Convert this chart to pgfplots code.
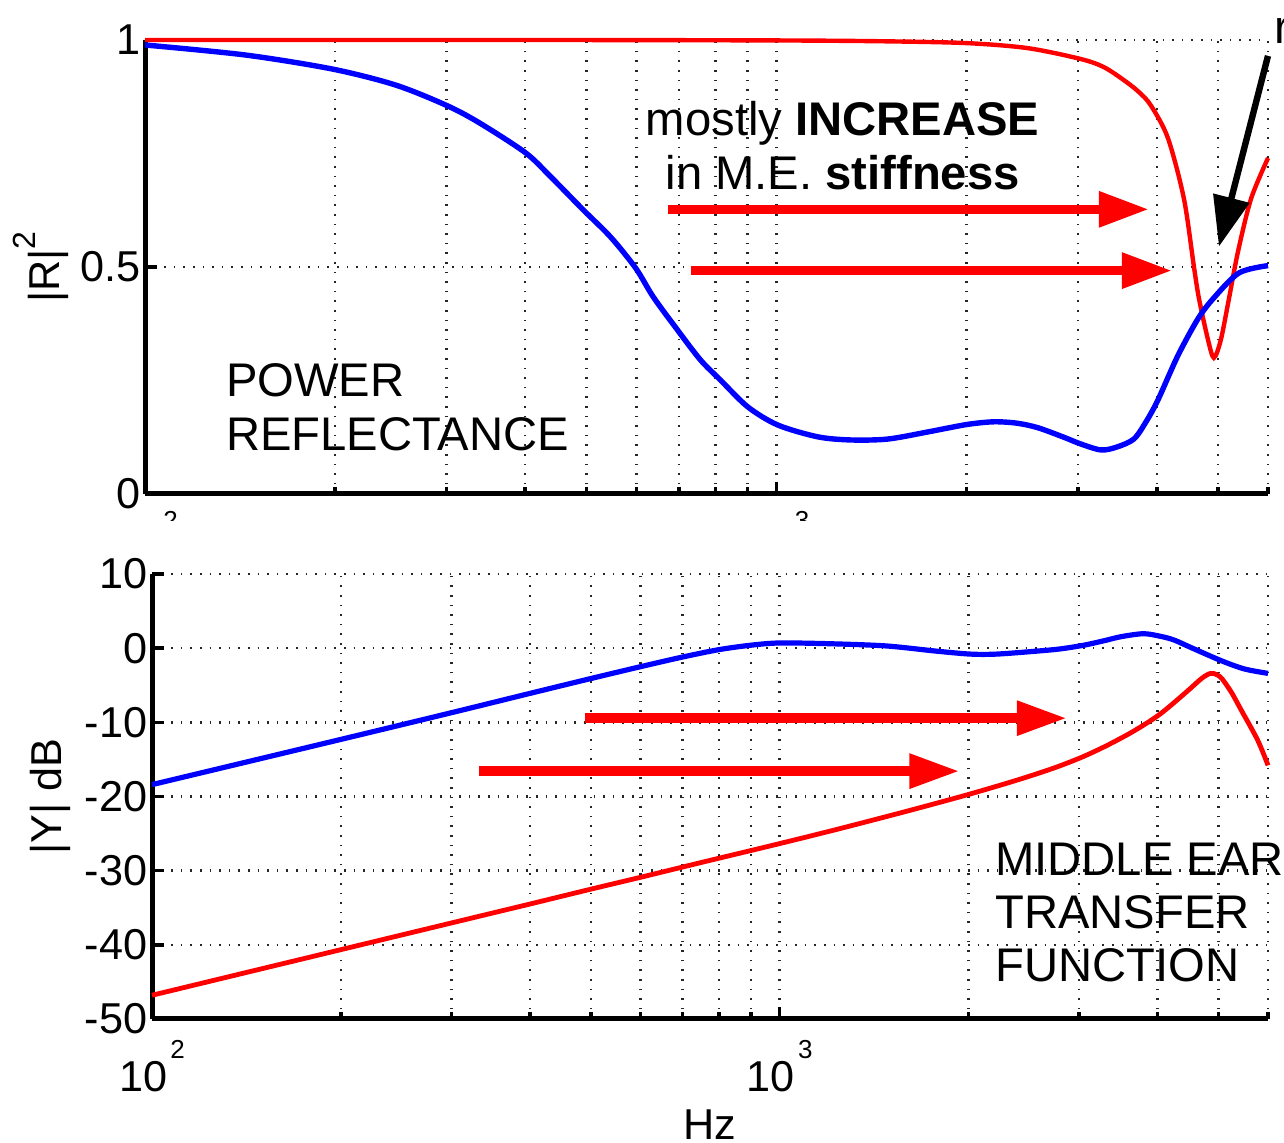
\documentclass[border=0pt]{standalone}
\usepackage{pgfplots}
\pgfplotsset{compat=1.18}
\usepackage{pgfplotstable}
\usepackage{fontspec}
\setmainfont{Liberation Sans}
\usetikzlibrary{arrows.meta}

\pgfplotstableread{
f r
100 1.000
400 1.000
1000 0.999
1500 0.997
2008 0.993
2500 0.982
3033 0.958
3300 0.940
3560 0.910
3750 0.885
3914 0.856
4165 0.784
4416 0.650
4580 0.500
4665 0.430
4820 0.340
4925 0.300
5052 0.340
5203 0.430
5378 0.534
5639 0.650
6000 0.740
}\topred

\pgfplotstableread{
f r
100 0.989
144 0.967
198 0.936
249 0.901
299 0.857
337 0.819
400 0.752
438 0.700
494 0.626
546 0.566
598 0.498
638 0.434
697 0.361
758 0.295
815 0.251
900 0.192
1004 0.152
1161 0.126
1310 0.119
1500 0.121
1741 0.137
2000 0.153
2207 0.159
2400 0.156
2592 0.146
2850 0.125
3033 0.110
3263 0.097
3450 0.103
3679 0.121
3850 0.160
4016 0.207
4320 0.305
4648 0.386
4925 0.432
5398 0.487
6000 0.503
}\topblue

\pgfplotstableread{
f y
100 -18.4
200 -12.3
300 -8.7
400 -6.1
500 -4.1
600 -2.5
700 -1.2
800 -0.2
900 0.4
1000 0.7
1200 0.6
1478 0.3
1777 -0.4
2014 -0.8
2216 -0.8
2568 -0.4
2800 -0.1
3053 0.4
3287 1.0
3500 1.55
3800 1.95
4042 1.6
4250 1.1
4546 0.0
5058 -1.7
5500 -2.8
6000 -3.4
}\botblue

\pgfplotstableread{
f y
100 -46.8
200 -40.65
300 -37.05
400 -34.5
500 -32.5
600 -30.9
750 -28.9
1000 -26.35
1250 -24.31
1600 -21.95
2000 -19.72
2400 -17.74
2750 -16.09
3050 -14.6
3350 -12.97
3685 -11.07
4042 -8.86
4462 -5.8
4700 -4.1
4858 -3.4
4980 -3.6
5076 -4.2
5250 -6.0
5426 -8.2
5776 -12.4
6000 -15.8
}\botred

\newcommand{\xlab}[1]{10\hspace{0.8pt}\raisebox{8.2pt}{\fontsize{6.5}{6.5}\selectfont #1}}
\newcommand{\xlabtop}[1]{\phantom{10}\hspace{0.8pt}\raisebox{8.2pt}{\fontsize{6.5}{6.5}\selectfont #1}}
\newcommand{\annfont}{\fontsize{11.8}{14}\selectfont}

\pgfplotsset{
  every axis/.append style={
    scale only axis,
    axis x line*=bottom, axis y line*=left,
    axis line style={line width=1.25pt,-},
    grid=both,
    major grid style={dotted, black!85, line width=0.6pt},
    minor grid style={dotted, black!85, line width=0.6pt},
    tick align=inside,
    major tick length=3pt, minor tick length=1.8pt,
    tick style={black, line width=0.9pt},
    tick label style={font=\fontsize{10.8}{12}\selectfont},
    yticklabel style={inner xsep=1pt},
    label style={font=\fontsize{10.8}{13}\selectfont},
    clip=false,
  }
}

\begin{document}
\begin{tikzpicture}
\useasboundingbox (0,0) rectangle (321pt,285.75pt);

% ---------- top: power reflectance ----------
\begin{axis}[
  xmode=log, xmin=100, xmax=6000,
  /pgf/number format/assume math mode=true,
  xtick={100,1000},
  minor xtick={200,300,400,500,600,700,800,900,2000,3000,4000,5000,6000},
  xticklabels={\xlabtop{2},\xlabtop{3}},
  at={(36.25pt,162.25pt)}, anchor=south west,
  width=280.75pt, height=113.5pt,
  ymin=0, ymax=1, ytick={0,0.5,1},
  xticklabel style={inner ysep=0pt, yshift=-4.25pt},
  ylabel={|R|\raisebox{6pt}{\fontsize{8}{8}\selectfont 2}},
  ylabel style={at={(axis description cs:-0.0926,0.5)}, anchor=center},
]
\addplot[red, line width=1.1pt, smooth] table[x=f,y=r] {\topred};
\addplot[blue, line width=1.35pt, smooth] table[x=f,y=r] {\topblue};

\node[anchor=base west, inner sep=0pt, font=\annfont] at (axis cs:134,0.214) {POWER};
\node[anchor=base west, inner sep=0pt, font=\annfont] at (axis cs:134,0.095) {REFLECTANCE};
\node[anchor=base, inner sep=0pt, font=\annfont] at (axis cs:1272,0.789) {mostly \textbf{INCREASE}};
\node[anchor=base, inner sep=0pt, font=\annfont] at (axis cs:1272,0.671) {in M.E. \textbf{stiffness}};

\draw[red, line width=2.3pt, -{Triangle[length=12.5pt,width=8.5pt]}] (axis cs:674,0.627) -- (axis cs:3886,0.627);
\draw[red, line width=2.3pt, -{Triangle[length=12.5pt,width=8.5pt]}] (axis cs:733,0.492) -- (axis cs:4227,0.492);
\draw[black, line width=1.6pt, -{Triangle[length=12.5pt,width=9pt]}] (axis cs:5999,0.965) -- (axis cs:5017,0.545);
\node[anchor=base west, inner sep=0pt, font=\annfont] at (axis cs:6133,0.993) {r};
\end{axis}

\fill[white] (0,144.5pt) rectangle (321pt,155.5pt);

% ---------- bottom: middle ear transfer function ----------
\begin{axis}[
  xmode=log, xmin=100, xmax=6000,
  /pgf/number format/assume math mode=true,
  xtick={100,1000},
  minor xtick={200,300,400,500,600,700,800,900,2000,3000,4000,5000,6000},
  xticklabels={\xlab{2},\xlab{3}},
  at={(38pt,31pt)}, anchor=south west,
  width=279pt, height=111.25pt,
  ymin=-50, ymax=10, ytick={-50,-40,-30,-20,-10,0,10},
  xticklabel style={inner ysep=0pt, yshift=-5.25pt},
  ylabel={|Y| dB},
  ylabel style={at={(axis description cs:-0.0907,0.5)}, anchor=center},
  xlabel={Hz},
  xlabel style={at={(axis description cs:0.5,-0.238)}, anchor=center},
]
\addplot[blue, line width=1.3pt, smooth] table[x=f,y=y] {\botblue};
\addplot[red, line width=1.2pt, smooth] table[x=f,y=y] {\botred};

\draw[red, line width=2.4pt, -{Triangle[length=12.5pt,width=8.2pt]}] (axis cs:489,-9.44) -- (axis cs:2868,-9.44);
\draw[red, line width=2.4pt, -{Triangle[length=12.5pt,width=8.2pt]}] (axis cs:332,-16.58) -- (axis cs:1934,-16.58);

\node[anchor=base west, inner sep=0pt, font=\annfont] at (axis cs:2200,-30.6) {MIDDLE EAR};
\node[anchor=base west, inner sep=0pt, font=\annfont] at (axis cs:2200,-37.75) {TRANSFER};
\node[anchor=base west, inner sep=0pt, font=\annfont] at (axis cs:2200,-44.96) {FUNCTION};
\end{axis}
\end{tikzpicture}
\end{document}
